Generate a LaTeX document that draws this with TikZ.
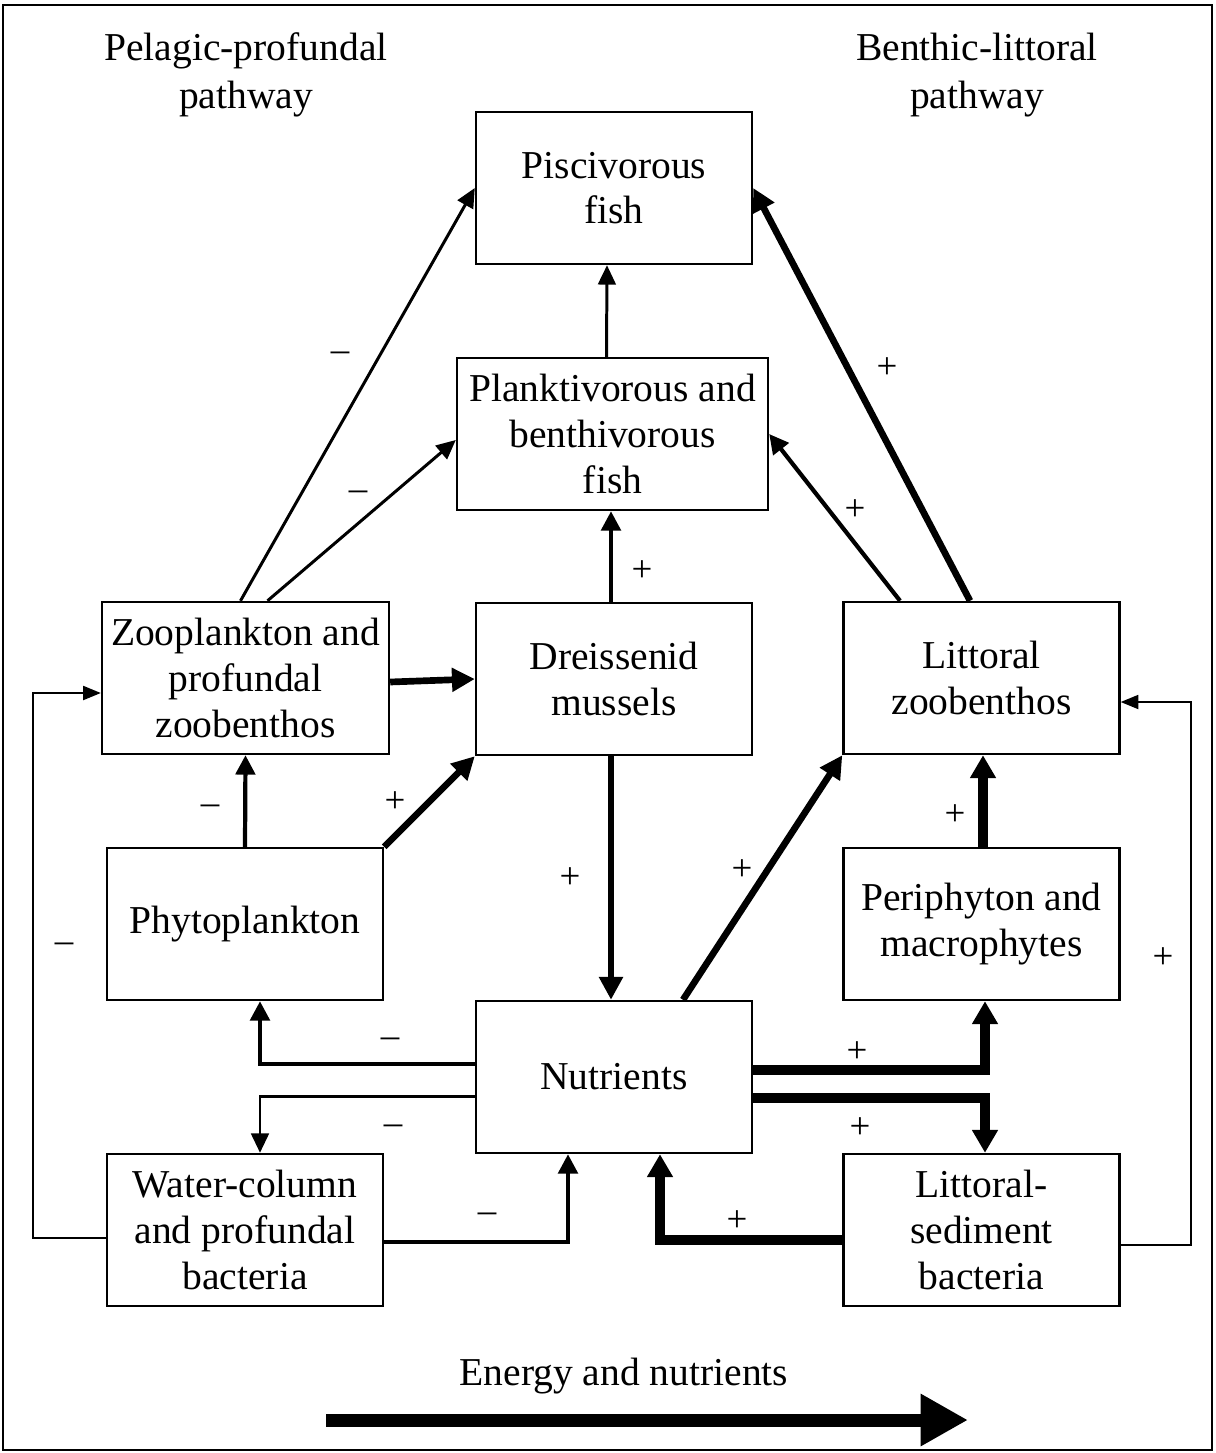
\documentclass[tikz,border=0pt]{standalone}
\usepackage{fontspec}
\setmainfont{Liberation Serif}
\usetikzlibrary{arrows.meta,calc}

\tikzset{
  box/.style={draw, line width=1.4pt, minimum width=5.52cm, minimum height=3.04cm,
    inner sep=0pt, align=center, font=\fontsize{22.5}{26}\selectfont},
  title/.style={align=center, font=\fontsize{22.5}{27}\selectfont},
  sign/.style={inner sep=0pt, font=\fontsize{21}{24}\selectfont},
  wirearr/.style={line width=0.9pt, -{Triangle[length=10pt,width=8pt]}},
  leanarr/.style={line width=1.7pt, -{Triangle[length=11pt,width=10pt]}},
  midarr/.style={line width=2.4pt, -{Triangle[length=11pt,width=11pt]}},
  boldarr/.style={line width=3.8pt, -{Triangle[length=13pt,width=13pt]}},
  heavyarr/.style={line width=5.5pt, -{Triangle[length=13pt,width=14pt]}}
}

\begin{document}
\begin{tikzpicture}[x=0.02cm, y=-0.02cm]
  \useasboundingbox (0,0) rectangle (1215,1453);
  \draw[line width=1.5pt] (3,5) rectangle (1212,1450);

  % headings
  \node[title] (pel) at (246,75) {Pelagic-profundal\\pathway};
  \node[title] (ben) at (977,75) {Benthic-littoral\\pathway};

  % boxes
  \node[box] (pisc) at (614,188) {Piscivorous\\fish};
  \node[box, minimum width=6.22cm] (plank) at (612.5,434) {Planktivorous and\\benthivorous\\fish};
  \node[box, minimum width=5.74cm] (zoo) at (245.5,678) {Zooplankton and\\profundal\\zoobenthos};
  \node[box] (dreiss) at (614,679) {Dreissenid\\mussels};
  \node[box] (litt) at (981.5,678) {Littoral\\zoobenthos};
  \node[box] (phyto) at (245,924) {Phytoplankton};
  \node[box] (periph) at (981.5,924) {Periphyton and\\macrophytes};
  \node[box] (nutr) at (614,1077) {Nutrients};
  \node[box] (wcb) at (245,1230) {Water-column\\and profundal\\bacteria};
  \node[box] (lsb) at (981.5,1230) {Littoral-\\sediment\\bacteria};

  % upper links
  \draw[leanarr] ($(zoo.north)+(-5,0)$) -- (pisc.west);
  \draw[leanarr] ($(zoo.north)+(22,0)$) -- ($(plank.west)+(0,6)$);
  \draw[leanarr] ($(plank.north)+(-6,0)$) -- ($(pisc.south)+(-7,0)$);
  \draw[midarr] ($(dreiss.north)+(-3,0)$) -- ($(plank.south)+(-1.5,0)$);
  \draw[midarr] ($(litt.north)+(-81.5,0)$) -- (plank.east);
  \draw[boldarr] ($(litt.north)+(-11.5,0)$) -- (pisc.east);
  \draw[boldarr] ($(zoo.east)+(0,4)$) -- (dreiss.west);

  % middle links
  \draw[midarr] (phyto.north) -- (zoo.south);
  \draw[boldarr] (phyto.north east) -- (dreiss.south west);
  \draw[boldarr] ($(dreiss.south)+(-3,0)$) -- ($(nutr.north)+(-3,0)$);
  \draw[boldarr] ($(nutr.north)+(69,0)$) -- (litt.south west);
  \draw[heavyarr] ($(periph.north)+(1.5,0)$) -- ($(litt.south)+(1.5,0)$);

  % nutrient loops
  \draw[midarr] ($(nutr.west)+(0,-13)$) -| ($(phyto.south)+(15,0)$);
  \draw[leanarr] ($(nutr.west)+(0,19)$) -| ($(wcb.north)+(15,0)$);
  \draw[midarr] ($(wcb.east)+(0,12)$) -| ($(nutr.south)+(-46,0)$);
  \draw[heavyarr] ($(lsb.west)+(0,10)$) -| ($(nutr.south)+(46,0)$);
  \draw[heavyarr] ($(nutr.east)+(0,-7)$) -| ($(periph.south)+(3.5,0)$);
  \draw[heavyarr] ($(nutr.east)+(0,21)$) -| ($(lsb.north)+(3.5,0)$);

  % outer feedbacks
  \draw[wirearr] ($(wcb.west)+(0,8)$) -- ++(-73,0) |- ($(zoo.west)+(0,15)$);
  \draw[wirearr] ($(lsb.east)+(0,15)$) -- ++(70,0) |- ($(litt.east)+(0,24)$);

  % signs
  \foreach \x/\y/\s [count=\i] in {340/357/--, 358/496/--, 642/571/+, 855/510/+,
      887/368/+, 210/810/--, 395/802/+, 570/878/+, 742/870/+, 955/815/+,
      390/1043/--, 393/1130/--, 487/1218/--, 737/1221/+, 857/1052/+,
      860/1128/+, 64/948/--, 1163/958/+}
    \node[sign] (sg\i) at (\x,\y) {\s};

  % energy arrow
  \node[title] (flow) at (624,1376) {Energy and nutrients};
  \coordinate (fstart) at (326,1420);
  \coordinate (fend) at (968,1420);
  \draw[line width=7.4pt, -{Triangle[length=27pt,width=28pt]}] (fstart) -- (fend);
\end{tikzpicture}
\end{document}
